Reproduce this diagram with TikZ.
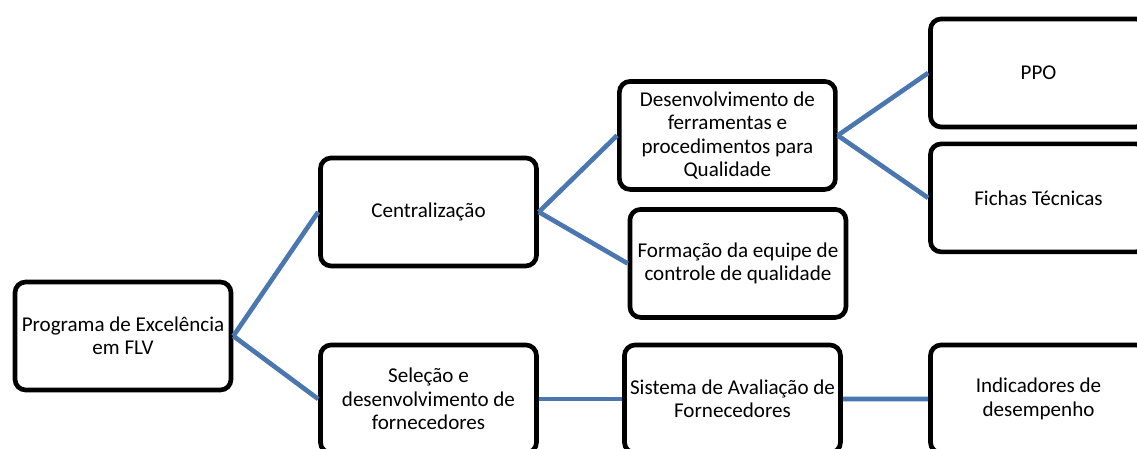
\documentclass[tikz,border=0pt]{standalone}
\usepackage{fontspec}
\setmainfont{Carlito}
\definecolor{linkblue}{RGB}{74,119,176}

\begin{document}
\begin{tikzpicture}
  [grow'=right,
    every node/.style={draw=black,line width=3.5pt,rounded corners=8pt,fill=white,
      minimum width=162pt,minimum height=81pt,align=center,inner sep=2pt,
      font=\fontsize{15.8}{17.5}\selectfont},
    edge from parent/.style={draw=linkblue,line width=3.5pt},
    parent anchor=east, child anchor=west,
    level 1/.style={level distance=229.1pt,sibling distance=140.25pt},
    level 2/.style={level distance=224.2pt,sibling distance=96pt},
  level 3/.style={level distance=233.3pt,sibling distance=93.7pt},
]
  \useasboundingbox (0,0) rectangle (852.75pt,-336.75pt);
  \clip (0,0) rectangle (852.75pt,-336.75pt);
  \node (prog) at (92.25pt,-252pt) {Programa de Excelência\\em FLV}
  child[yshift=22.9pt] {node (central) {Centralização}
    child[yshift=9.4pt] {node (ferram) {Desenvolvimento de\\ferramentas e\\procedimentos para\\Qualidade}
      child {node (ppo) {PPO}}
      child {node (fichas) {Fichas Técnicas}}
    }
    child[yshift=9.4pt,xshift=7.9pt] {node (equipe) {Formação da equipe de\\controle de qualidade}}
  }
  child[yshift=22.9pt] {node (selecao) {Seleção e\\desenvolvimento de\\fornecedores}
    child[xshift=3.8pt] {node (avalia) {Sistema de Avaliação de\\Fornecedores}
      child[xshift=-3.8pt] {node (indic) {Indicadores de\\desempenho}}
    }
  };
\end{tikzpicture}
\end{document}
